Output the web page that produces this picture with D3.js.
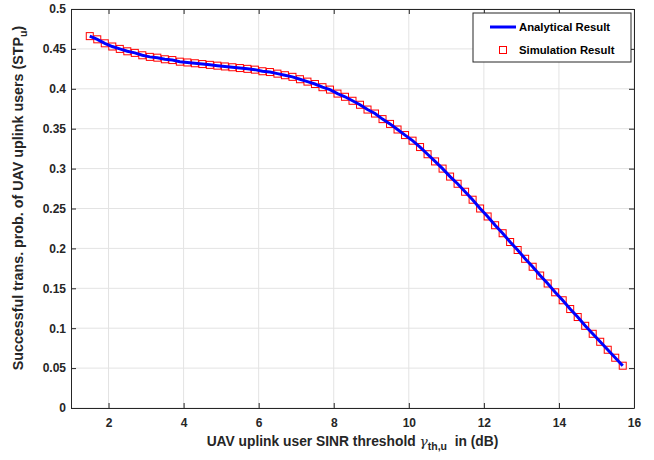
<!DOCTYPE html>
<html>
<head>
<meta charset="utf-8">
<script src="https://cdn.jsdelivr.net/npm/d3@7"></script>
<style>
  body { margin: 0; background: #fff; }
  svg { font-family: "Liberation Sans", Arial, Helvetica, sans-serif; }
  .tick text { font-weight: bold; font-size: 12px; fill: #262626; }
</style>
</head>
<body>
<script>
// SINR threshold (dB) of every marker
const sinrDb = [
  1.5, 1.7, 1.9, 2.1, 2.3, 2.5, 2.7, 2.9, 3.1, 3.3, 3.5, 3.7, 3.9, 4.1, 4.3, 4.5,
  4.7, 4.9, 5.1, 5.3, 5.5, 5.7, 5.9, 6.1, 6.3, 6.5, 6.7, 6.9, 7.1, 7.3, 7.5, 7.7,
  7.9, 8.1, 8.3, 8.5, 8.7, 8.9, 9.1, 9.3, 9.5, 9.7, 9.9, 10.1, 10.3, 10.5, 10.7,
  10.9, 11.1, 11.3, 11.5, 11.7, 11.9, 12.1, 12.3, 12.5, 12.7, 12.9, 13.1, 13.3,
  13.5, 13.7, 13.9, 14.1, 14.3, 14.5, 14.7, 14.9, 15.1, 15.3, 15.5, 15.7
];
// analytical STP_u
const analytical = [
  0.466, 0.462, 0.457, 0.453, 0.450, 0.447, 0.445, 0.442, 0.440, 0.439, 0.437, 0.436,
  0.434, 0.433, 0.432, 0.431, 0.430, 0.429, 0.428, 0.427, 0.426, 0.425, 0.424, 0.422,
  0.421, 0.419, 0.417, 0.415, 0.412, 0.409, 0.406, 0.402, 0.399, 0.394, 0.390, 0.385,
  0.380, 0.374, 0.369, 0.362, 0.356, 0.349, 0.342, 0.335, 0.327, 0.318, 0.309, 0.300,
  0.290, 0.281, 0.271, 0.261, 0.250, 0.240, 0.229, 0.219, 0.208, 0.198, 0.187, 0.177,
  0.166, 0.156, 0.145, 0.135, 0.124, 0.114, 0.103, 0.093, 0.083, 0.073, 0.063, 0.053
];
// simulation markers sit on the analytical curve
const simulation = [
  0.466, 0.462, 0.457, 0.453, 0.450, 0.447, 0.445, 0.442, 0.440, 0.439, 0.437, 0.436,
  0.434, 0.433, 0.432, 0.431, 0.430, 0.429, 0.428, 0.427, 0.426, 0.425, 0.424, 0.422,
  0.421, 0.419, 0.417, 0.415, 0.412, 0.409, 0.406, 0.402, 0.399, 0.394, 0.390, 0.385,
  0.380, 0.374, 0.369, 0.362, 0.356, 0.349, 0.342, 0.335, 0.327, 0.318, 0.309, 0.300,
  0.290, 0.281, 0.271, 0.261, 0.250, 0.240, 0.229, 0.219, 0.208, 0.198, 0.187, 0.177,
  0.166, 0.156, 0.145, 0.135, 0.124, 0.114, 0.103, 0.093, 0.083, 0.073, 0.063, 0.053
];
const xTicks = [2, 4, 6, 8, 10, 12, 14, 16];
const yTicks = [0, 0.05, 0.1, 0.15, 0.2, 0.25, 0.3, 0.35, 0.4, 0.45, 0.5];
const legendLabels = ["Analytical Result", "Simulation Result"];

const w = 654, h = 460;
const margin = { top: 9, right: 20, bottom: 52, left: 71 };
const axisColor = "#262626";

const svg = d3.select("body").append("svg")
  .attr("width", w)
  .attr("height", h);

const x = d3.scaleLinear().domain([1, 16]).range([margin.left, w - margin.right]);
const y = d3.scaleLinear().domain([0, 0.5]).range([h - margin.bottom, margin.top]);

//grid
svg.append("g").selectAll("line").data(xTicks).enter().append("line")
  .attr("x1", d => x(d)).attr("x2", d => x(d))
  .attr("y1", y(0)).attr("y2", y(0.5))
  .style("stroke", "#e3e3e3").style("stroke-width", 1);
svg.append("g").selectAll("line").data(yTicks).enter().append("line")
  .attr("x1", x(1)).attr("x2", x(16))
  .attr("y1", d => y(d)).attr("y2", d => y(d))
  .style("stroke", "#e3e3e3").style("stroke-width", 1);

//axes, ticks point inward like matlab
const fmt = d => String(+d.toFixed(2));
const axBottom = svg.append("g")
  .attr("transform", `translate(0,${y(0)})`)
  .call(d3.axisBottom(x).tickValues(xTicks).tickSizeInner(-5).tickSizeOuter(0).tickPadding(10));
const axLeft = svg.append("g")
  .attr("transform", `translate(${x(1)},0)`)
  .call(d3.axisLeft(y).tickValues(yTicks).tickFormat(fmt).tickSizeInner(-5).tickSizeOuter(0).tickPadding(5));
const axTop = svg.append("g")
  .attr("transform", `translate(0,${y(0.5)})`)
  .call(d3.axisTop(x).tickValues(xTicks).tickSizeInner(-5).tickSizeOuter(0).tickFormat(""));
const axRight = svg.append("g")
  .attr("transform", `translate(${x(16)},0)`)
  .call(d3.axisRight(y).tickValues(yTicks).tickSizeInner(-5).tickSizeOuter(0).tickFormat(""));
[axBottom, axLeft, axTop, axRight].forEach(g => {
  g.selectAll("path, line").style("stroke", axisColor).style("stroke-width", 1);
});

const pts = sinrDb.map((d, i) => ({ x: d, a: analytical[i], s: simulation[i] }));

//simulation markers
const ms = 7;
svg.append("g").selectAll("rect").data(pts).enter().append("rect")
  .attr("x", d => x(d.x) - ms / 2)
  .attr("y", d => y(d.s) - ms / 2)
  .attr("width", ms).attr("height", ms)
  .style("fill", "none").style("stroke", "#ff0000").style("stroke-width", 1);

//analytical line
const line = d3.line().x(d => x(d.x)).y(d => y(d.a));
svg.append("path").datum(pts)
  .attr("d", line)
  .style("fill", "none").style("stroke", "#0000ff").style("stroke-width", 3);

//legend
const lg = svg.append("g");
lg.append("rect")
  .attr("x", 473).attr("y", 13).attr("width", 158).attr("height", 49)
  .style("fill", "#fff").style("stroke", axisColor).style("stroke-width", 1);
lg.append("line")
  .attr("x1", 490).attr("x2", 516).attr("y1", 27).attr("y2", 27)
  .style("stroke", "#0000ff").style("stroke-width", 3);
lg.append("rect")
  .attr("x", 503 - ms / 2).attr("y", 50 - ms / 2).attr("width", ms).attr("height", ms)
  .style("fill", "none").style("stroke", "#ff0000").style("stroke-width", 1);
lg.selectAll("text").data(legendLabels).enter().append("text")
  .attr("x", 519)
  .attr("y", (d, i) => 31 + i * 23)
  .style("font-size", "11.3px").style("font-weight", "bold").style("fill", "#000")
  .text(d => d);

//x label
const xl = svg.append("text")
  .attr("x", (x(1) + x(16)) / 2)
  .attr("y", 446)
  .attr("text-anchor", "middle")
  .style("font-size", "13.8px").style("font-weight", "bold").style("fill", "#262626");
xl.append("tspan").text("UAV uplink user SINR threshold ");
xl.append("tspan").style("font-family", "'DejaVu Serif', serif").style("font-style", "italic")
  .style("font-weight", "normal").text("γ");
xl.append("tspan").attr("dy", 4).style("font-size", "10.5px").text("th,u");
xl.append("tspan").attr("dy", -4).text("\u00a0 in (dB)");

//y label
const yl = svg.append("text")
  .attr("transform", `translate(23,198) rotate(-90)`)
  .attr("text-anchor", "middle")
  .style("font-size", "14.3px").style("font-weight", "bold").style("fill", "#262626");
yl.append("tspan").text("Successful trans. prob. of UAV uplink users (STP");
yl.append("tspan").attr("dy", 4).style("font-size", "10.5px").text("u");
yl.append("tspan").attr("dy", -4).text(")");
</script>
</body>
</html>
